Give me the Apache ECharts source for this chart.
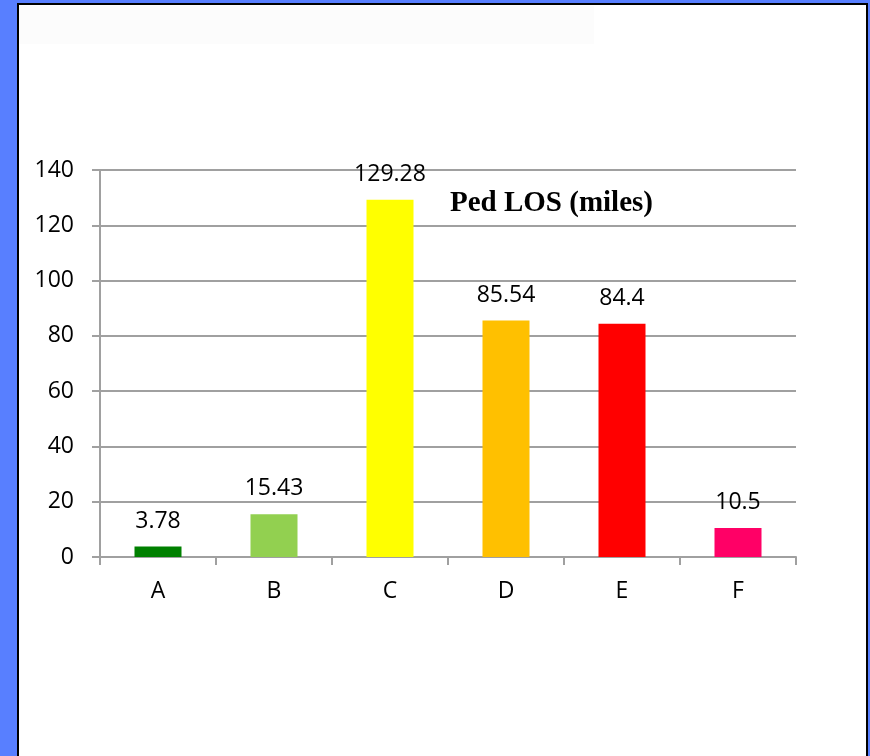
<!DOCTYPE html>
<html>
<head>
<meta charset="utf-8">
<script src="https://cdn.jsdelivr.net/npm/echarts@6/dist/echarts.min.js"></script>
<style>
html,body{margin:0;padding:0;background:#587FFF;}
#chart{width:870px;height:756px;}
</style>
</head>
<body>
<div id="chart"></div>
<script>
const categories = ['A', 'B', 'C', 'D', 'E', 'F'];
const values = [3.78, 15.43, 129.28, 85.54, 84.4, 10.5];
const barColors = ['#008000', '#92D050', '#FFFF00', '#FFC000', '#FF0000', '#FF0066'];
const titleText = 'Ped LOS (miles)';
const yMin = 0, yMax = 140, yStep = 20;

const chart = echarts.init(document.getElementById('chart'));
const labelFont = '"Open Sans", "Noto Sans", sans-serif';
chart.setOption({
  backgroundColor: '#587FFF',
  animation: false,
  graphic: [
    { type: 'rect', z: -10, shape: { x: 18, y: 4, width: 849, height: 800 },
      style: { fill: '#FFFFFF', stroke: '#000000', lineWidth: 2 } },
    { type: 'rect', z: -9, shape: { x: 19, y: 6, width: 575, height: 38 },
      style: { fill: '#FCFCFC' } }
  ],
  title: {
    text: titleText,
    left: 445, top: 184,
    textStyle: { fontFamily: '"Liberation Serif", "Times New Roman", serif', fontWeight: 'bold', fontSize: 29, color: '#000' }
  },
  grid: { left: 100, right: 74, top: 170, bottom: 199 },
  xAxis: {
    type: 'category',
    data: categories,
    axisLine: { lineStyle: { color: '#A0A0A0', width: 2 } },
    axisTick: { show: true, length: 8, lineStyle: { color: '#A0A0A0', width: 2 } },
    axisLabel: { margin: 23, fontSize: 23, color: '#000', fontFamily: labelFont }
  },
  yAxis: {
    type: 'value',
    min: yMin, max: yMax, interval: yStep,
    axisLine: { show: true, lineStyle: { color: '#A0A0A0', width: 2 } },
    axisTick: { show: true, length: 8, lineStyle: { color: '#A0A0A0', width: 2 } },
    splitLine: { lineStyle: { color: '#A0A0A0', width: 2 } },
    axisLabel: { margin: 26, fontSize: 23, color: '#000', fontFamily: labelFont }
  },
  series: [{
    type: 'bar',
    barWidth: 47,
    data: values.map((v, i) => ({ value: v, itemStyle: { color: barColors[i] } })),
    label: { show: true, position: 'top', distance: 14, fontSize: 23, color: '#000', fontFamily: labelFont }
  }]
});
</script>
</body>
</html>
